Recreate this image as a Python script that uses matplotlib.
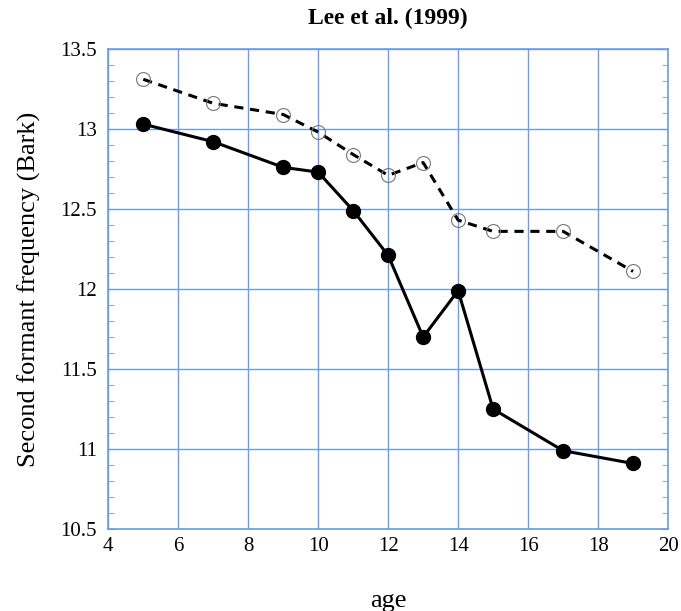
import matplotlib
matplotlib.use("Agg")
import matplotlib.pyplot as plt
from matplotlib.ticker import MultipleLocator

# ages and F2 values (Bark)
age = [5, 7, 9, 10, 11, 12, 13, 14, 15, 17, 19]
f2Filled = [13.03, 12.92, 12.76, 12.73, 12.49, 12.21, 11.70, 11.99, 11.25, 10.99, 10.91]
f2Open = [13.31, 13.16, 13.09, 12.98, 12.84, 12.71, 12.79, 12.43, 12.36, 12.36, 12.11]

gridBlue = "#6c9de3"

plt.rcParams["font.family"] = ["Liberation Serif", "DejaVu Serif"]

fig = plt.figure(figsize=(6.81, 6.11), dpi=100)
ax = fig.add_axes([0.159, 0.134, 0.822, 0.786])

# open circles, dashed line
ax.plot(age, f2Open, "--", color="black", linewidth=2.2, dashes=(3, 2.2),
        marker="o", markersize=10, markerfacecolor="none",
        markeredgecolor="#777777", markeredgewidth=0.8, zorder=3)
# filled circles, solid line
ax.plot(age, f2Filled, "-", color="black", linewidth=2.2,
        marker="o", markersize=10, markerfacecolor="black",
        markeredgecolor="black", zorder=4)

ax.set_xlim(4, 20)
ax.set_ylim(10.5, 13.5)
ax.xaxis.set_major_locator(MultipleLocator(2))
ax.yaxis.set_major_locator(MultipleLocator(0.5))
ax.yaxis.set_minor_locator(MultipleLocator(0.1))
ax.set_yticks([10.5, 11, 11.5, 12, 12.5, 13, 13.5])
ax.set_yticklabels(["10.5", "11", "11.5", "12", "12.5", "13", "13.5"])

ax.grid(True, which="major", color=gridBlue, linewidth=1.0)
for side in ax.spines.values():
    side.set_color(gridBlue)
    side.set_linewidth(1.2)

ax.tick_params(which="both", direction="in", colors=gridBlue,
               left=True, right=True, top=False, bottom=False,
               labelcolor="black", labelsize=15)
ax.tick_params(which="major", length=6, pad=8)
ax.tick_params(which="minor", length=4)
ax.tick_params(axis="x", pad=6)

ax.set_title("Lee et al. (1999)", fontsize=17, fontweight="bold", pad=18)
ax.set_xlabel("age", fontsize=19, labelpad=24)
ax.set_ylabel("Second formant frequency (Bark)", fontsize=19, labelpad=14)

fig.savefig("out.png", dpi=100)
